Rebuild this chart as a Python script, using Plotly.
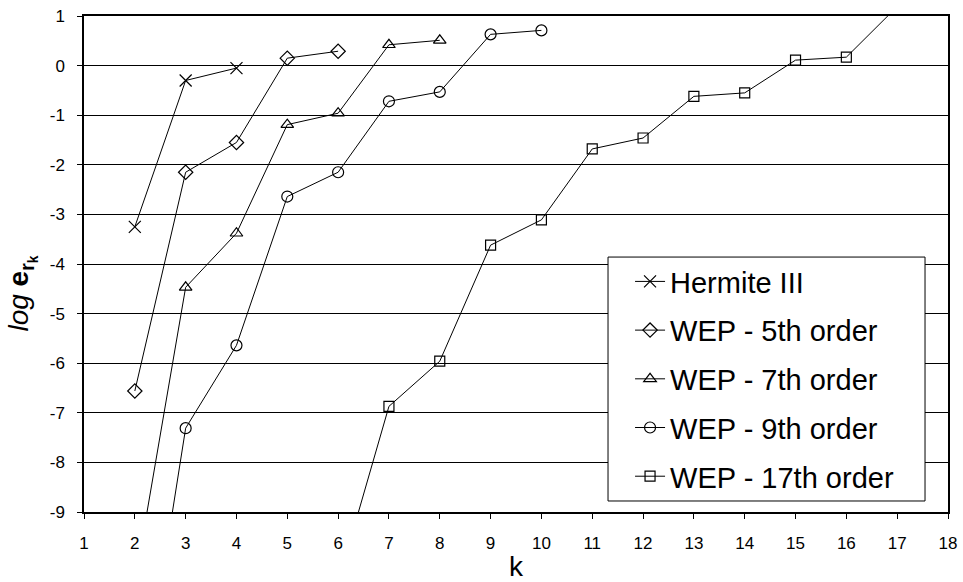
import plotly.graph_objects as go

# Error (log10) versus k for each method
k_hermite = [2, 3, 4]
log_e_hermite = [-3.25, -0.30, -0.05]

k_wep5 = [2, 3, 4, 5, 6]
log_e_wep5 = [-6.56, -2.15, -1.55, 0.15, 0.29]

k_wep7 = [2, 3, 4, 5, 6, 7, 8]
log_e_wep7 = [-10.43, -4.47, -3.38, -1.19, -0.96, 0.42, 0.51]

k_wep9 = [2, 3, 4, 5, 6, 7, 8, 9, 10]
log_e_wep9 = [-13.8, -7.31, -5.64, -2.64, -2.15, -0.72, -0.53, 0.63, 0.71]

k_wep17 = [6, 7, 8, 9, 10, 11, 12, 13, 14, 15, 16, 17]
log_e_wep17 = [-10.42, -6.87, -5.96, -3.62, -3.11, -1.68, -1.46, -0.62, -0.55,
               0.11, 0.17, 1.19]

series_names = ["Hermite III", "WEP - 5th order", "WEP - 7th order",
                "WEP - 9th order", "WEP - 17th order"]
x_ticks = list(range(1, 19))
y_ticks = list(range(-9, 2))

series = [
    (k_hermite, log_e_hermite, "x-thin-open", 12),
    (k_wep5, log_e_wep5, "diamond-open", 11),
    (k_wep7, log_e_wep7, "triangle-up-open", 11),
    (k_wep9, log_e_wep9, "circle-open", 11),
    (k_wep17, log_e_wep17, "square-open", 10),
]

fig = go.Figure()
for i, (xs, ys, sym, sz) in enumerate(series):
    fig.add_trace(go.Scatter(
        x=xs, y=ys, name=series_names[i], mode="lines+markers",
        line=dict(color="black", width=1),
        marker=dict(symbol=sym, size=sz, color="black",
                    line=dict(color="black", width=1.2)),
        legendgroup=f"g{i}", cliponaxis=True,
    ))

font_family = "Liberation Sans, Arial, sans-serif"

# framed white panel behind the legend entries
fig.add_shape(
    type="rect", xref="paper", yref="paper",
    x0=0.6065, x1=0.9734, y0=0.0222, y1=0.514,
    fillcolor="white", line=dict(color="black", width=1), layer="above",
)

fig.update_layout(
    width=963, height=582,
    margin=dict(l=84, r=15, t=16, b=70),
    paper_bgcolor="white", plot_bgcolor="white",
    font=dict(family=font_family, color="black", size=17),
    showlegend=True,
    legend=dict(
        x=0.632, y=0.516, xanchor="left", yanchor="top",
        bgcolor="rgba(0,0,0,0)", borderwidth=0,
        font=dict(size=29, family=font_family, color="black"),
        itemwidth=30, tracegroupgap=8, traceorder="grouped",
    ),
    xaxis=dict(
        range=[1, 18], tickvals=x_ticks, ticktext=[str(v) for v in x_ticks],
        showgrid=False, zeroline=False, automargin=False,
        showline=True, linecolor="black", linewidth=2, mirror=True,
        ticks="outside", ticklen=5, tickcolor="black", tickwidth=1,
        tickfont=dict(size=17), ticklabelstandoff=10,
        title=dict(text="k", font=dict(size=28), standoff=12),
    ),
    yaxis=dict(
        range=[-9, 1], tickvals=y_ticks, ticktext=[str(v) for v in y_ticks],
        showgrid=True, gridcolor="black", gridwidth=1,
        zeroline=False, automargin=False,
        showline=True, linecolor="black", linewidth=1.5, mirror=True,
        ticks="outside", ticklen=5, tickcolor="black", tickwidth=1,
        tickfont=dict(size=17),
        ticklabelstandoff=9,
    ),
)

fig.add_annotation(
    xref="paper", yref="paper", x=-0.072, y=0.44,
    xanchor="center", yanchor="middle", textangle=-90, showarrow=False,
    text="<i>log</i> <b>e<sub>r<sub>k</sub></sub></b>",
    font=dict(size=28, family=font_family, color="black"),
)

fig.write_html("out.html")
